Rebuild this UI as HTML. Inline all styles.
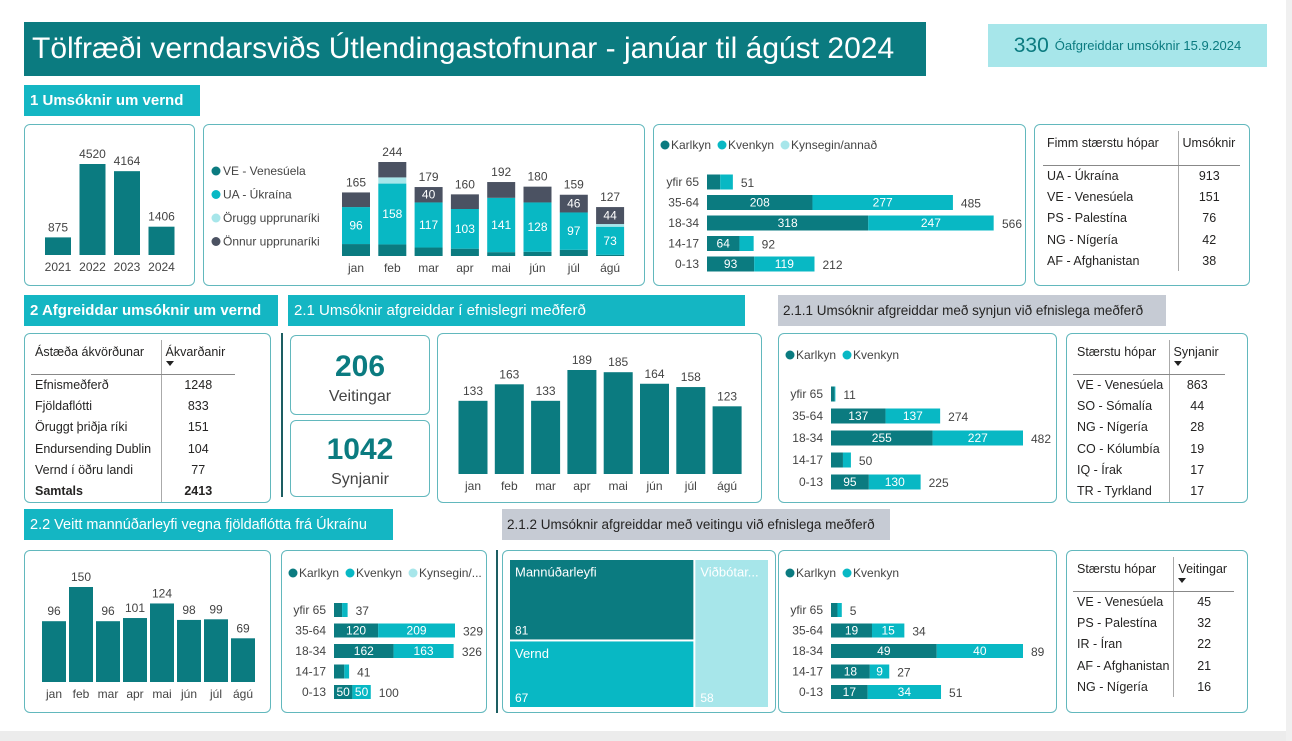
<!DOCTYPE html>
<html><head><meta charset="utf-8">
<style>
*{box-sizing:border-box;margin:0;padding:0}
body{width:1292px;height:741px;background:#fff;position:relative;overflow:hidden;font-family:"Liberation Sans",sans-serif;color:#333}
.abs{position:absolute}
.panel{position:absolute;border:1.5px solid #62b8bd;border-radius:6px;background:#fff}
.hdr{position:absolute;background:#14b6c3;color:#fff;font-size:15px;padding-left:6px;display:flex;align-items:center;white-space:nowrap}
.ghdr{position:absolute;background:#c6cbd4;color:#252423;font-size:13.5px;padding-left:5px;display:flex;align-items:center;white-space:nowrap;overflow:hidden}
table{border-collapse:collapse;font-size:12.5px;color:#252423;white-space:nowrap}
td{padding:0 4px;height:21.3px}
.th td{height:34px;vertical-align:top;padding-top:5px;border-bottom:1px solid #888}
.num{text-align:center;border-left:1px solid #aaa}
.tri{display:block;width:0;height:0;border-left:4px solid transparent;border-right:4px solid transparent;border-top:5px solid #222;margin-top:2px}
svg text{font-family:"Liberation Sans",sans-serif}
</style></head><body>
<div class="abs" style="left:0;top:731px;width:1292px;height:10px;background:#ececec"></div>
<div class="abs" style="left:1286px;top:0;width:6px;height:741px;background:#f0f0f0"></div>

<div class="abs" style="left:24px;top:22px;width:902px;height:54px;background:#0b7b80;color:#fff;font-size:30px;padding-left:8px;line-height:54px;white-space:nowrap">Tölfræði verndarsviðs Útlendingastofnunar - janúar til ágúst 2024</div>
<div class="abs" style="left:988px;top:24px;width:279px;height:43px;background:#a7e6ea;display:flex;align-items:center;justify-content:center;font-size:13px;color:#0b7b80;white-space:nowrap"><span style="font-size:21px;margin-right:6px">330</span>Óafgreiddar umsóknir 15.9.2024</div>

<div class="hdr" style="left:24px;top:85px;width:176px;height:31px;font-weight:bold">1 Umsóknir um vernd</div>
<div class="hdr" style="left:24px;top:295px;width:254px;height:31px;font-weight:bold">2 Afgreiddar umsóknir um vernd</div>
<div class="hdr" style="left:288px;top:295px;width:457px;height:31px">2.1 Umsóknir afgreiddar í efnislegri meðferð</div>
<div class="ghdr" style="left:778px;top:295px;width:388px;height:31px">2.1.1 Umsóknir afgreiddar með synjun við efnislega meðferð</div>
<div class="hdr" style="left:24px;top:509px;width:369px;height:31px;font-size:14.5px">2.2 Veitt mannúðarleyfi vegna fjöldaflótta frá Úkraínu</div>
<div class="ghdr" style="left:502px;top:509px;width:388px;height:31px">2.1.2 Umsóknir afgreiddar með veitingu við efnislega meðferð</div>

<div class="panel" style="left:24px;top:124px;width:171px;height:162px"></div>
<div class="panel" style="left:203px;top:124px;width:442px;height:162px"></div>
<div class="panel" style="left:653px;top:124px;width:373px;height:162px"></div>
<div class="panel" style="left:1034px;top:124px;width:216px;height:162px;padding:6px 0 0 8px">
<table><tr class="th"><td style="width:135px">Fimm stærstu hópar</td><td class="num" style="text-align:left;width:62px">Umsóknir</td></tr>
<tr><td>UA - Úkraína</td><td class="num">913</td></tr><tr><td>VE - Venesúela</td><td class="num">151</td></tr><tr><td>PS - Palestína</td><td class="num">76</td></tr><tr><td>NG - Nígería</td><td class="num">42</td></tr><tr><td>AF - Afghanistan</td><td class="num">38</td></tr></table></div>

<div class="panel" style="left:24px;top:333px;width:247px;height:170px;padding:6px 0 0 6px">
<table><tr class="th"><td style="width:130px">Ástæða ákvörðunar</td><td class="num" style="text-align:left;width:74px">Ákvarðanir<span class="tri"></span></td></tr>
<tr><td>Efnismeðferð</td><td class="num">1248</td></tr><tr><td>Fjöldaflótti</td><td class="num">833</td></tr><tr><td>Öruggt þriðja ríki</td><td class="num">151</td></tr><tr><td>Endursending Dublin</td><td class="num">104</td></tr><tr><td>Vernd í öðru landi</td><td class="num">77</td></tr><tr><td style="font-weight:bold">Samtals</td><td class="num" style="font-weight:bold">2413</td></tr></table></div>
<div class="abs" style="left:281px;top:333px;width:2px;height:164px;background:#1d5e62"></div>
<div class="panel" style="left:290px;top:335px;width:140px;height:80px;text-align:center"><div style="font-size:30px;color:#0b7b80;font-weight:bold;margin-top:14px">206</div><div style="font-size:16px;color:#444;margin-top:4px">Veitingar</div></div>
<div class="panel" style="left:290px;top:420px;width:140px;height:77px;text-align:center"><div style="font-size:30px;color:#0b7b80;font-weight:bold;margin-top:12px">1042</div><div style="font-size:16px;color:#444;margin-top:4px">Synjanir</div></div>
<div class="panel" style="left:437px;top:333px;width:325px;height:170px"></div>
<div class="panel" style="left:778px;top:333px;width:279px;height:170px"></div>
<div class="panel" style="left:1066px;top:333px;width:182px;height:170px;padding:6px 0 0 6px">
<table><tr class="th"><td style="width:96px">Stærstu hópar</td><td class="num" style="text-align:left;width:56px">Synjanir<span class="tri"></span></td></tr>
<tr><td>VE - Venesúela</td><td class="num">863</td></tr><tr><td>SO - Sómalía</td><td class="num">44</td></tr><tr><td>NG - Nígería</td><td class="num">28</td></tr><tr><td>CO - Kólumbía</td><td class="num">19</td></tr><tr><td>IQ - Írak</td><td class="num">17</td></tr><tr><td>TR - Tyrkland</td><td class="num">17</td></tr></table></div>

<div class="panel" style="left:24px;top:550px;width:247px;height:163px"></div>
<div class="panel" style="left:281px;top:550px;width:206px;height:163px"></div>
<div class="abs" style="left:496px;top:550px;width:2px;height:163px;background:#1d5e62"></div>
<div class="panel" style="left:502px;top:550px;width:274px;height:163px"></div>
<div class="panel" style="left:778px;top:550px;width:279px;height:163px"></div>
<div class="panel" style="left:1066px;top:550px;width:182px;height:163px;padding:6px 0 0 6px">
<table><tr class="th"><td style="width:96px">Stærstu hópar</td><td class="num" style="text-align:left;width:60px">Veitingar<span class="tri"></span></td></tr>
<tr><td>VE - Venesúela</td><td class="num">45</td></tr><tr><td>PS - Palestína</td><td class="num">32</td></tr><tr><td>IR - Íran</td><td class="num">22</td></tr><tr><td>AF - Afghanistan</td><td class="num">21</td></tr><tr><td>NG - Nígería</td><td class="num">16</td></tr></table></div>

<svg id="c" class="abs" style="left:0;top:0" width="1292" height="741"></svg>

<script>
// ---- data ----
const years = ['2021','2022','2023','2024'];
const yearVals = [875,4520,4164,1406];
const months = ['jan','feb','mar','apr','mai','jún','júl','ágú'];
const originVE = [31,30,22,19,10,11,16,3];
const originUA = [96,158,117,103,141,128,97,73];
const originSafe = [0,16,0,0,0,0,0,7];
const originOther = [38,40,40,38,41,41,46,44];
const showOtherLabel = [false,false,true,false,false,false,true,true];
const ageCats = ['yfir 65','35-64','18-34','14-17','0-13'];
const appMale = [26,208,318,64,93];
const appFemale = [25,277,247,28,119];
const appOther = [0,0,1,0,0];
const decMonthly = [133,163,133,189,185,164,158,123];
const rejMale = [9,137,255,30,95];
const rejFemale = [2,137,227,20,130];
const uaMonthly = [96,150,96,101,124,98,99,69];
const uaMale = [22,120,162,28,50];
const uaFemale = [15,209,163,13,50];
const uaOther = [0,0,1,0,0];
const grMale = [3,19,49,18,17];
const grFemale = [2,15,40,9,34];
const treeNames = ['Mannúðarleyfi','Vernd','Viðbótar...'];
const treeVals = [81,67,58];

const C_DARK='#0b7b80', C_MID='#08b8c4', C_LIGHT='#a7e6ea', C_GRAY='#4b5262';
const svg = document.getElementById('c');
const NS='http://www.w3.org/2000/svg';
function el(tag, a){const e=document.createElementNS(NS,tag);for(const k in a)e.setAttribute(k,a[k]);svg.appendChild(e);return e;}
function txt(x,y,s,opt){opt=opt||{};const t=el('text',{x:x,y:y,'font-size':opt.size||12,fill:opt.fill||'#444','text-anchor':opt.anchor||'middle','dominant-baseline':'central'});t.textContent=s;


return t;}

function vbars(cats, vals, cx0, step, w, base, maxH, maxV, name){
  vals.forEach((v,i)=>{
    const h=v/maxV*maxH, cx=cx0+i*step;
    const r=el('rect',{x:cx-w/2,y:base-h,width:w,height:h,fill:C_DARK});
    
    
    txt(cx,base-h-10,String(v),{name:name+'-value'});
    txt(cx,base+12,cats[i],{name:name+'-x-label'});
  });
}
vbars(years,yearVals,58,34.5,26,255,91,4520,'yearly');
vbars(months,decMonthly,473,36.3,29,474,104,189,'decisions');
vbars(months,uaMonthly,54,27,24,682,95,150,'ukraine');

(function(){
  const base=256, k=94/244, w=28, cx0=356, step=36.3;
  const series=[[originVE,C_DARK],[originUA,C_MID],[originSafe,C_LIGHT],[originOther,C_GRAY]];
  months.forEach((m,i)=>{
    let y=base; const cx=cx0+i*step;
    series.forEach(([arr,col],s)=>{
      const h=arr[i]*k; if(h<=0)return;
      const r=el('rect',{x:cx-w/2,y:y-h,width:w,height:h,fill:col});
      
      
      if(s===1) txt(cx,y-h/2,String(arr[i]),{fill:'#fff',size:12,name:'origin-ua-value'});
      if(s===3 && showOtherLabel[i]) txt(cx,y-h/2,String(arr[i]),{fill:'#fff',size:12,name:'origin-other-value'});
      y-=h;
    });
    const tot=originVE[i]+originUA[i]+originSafe[i]+originOther[i];
    txt(cx,y-10,String(tot),{name:'origin-total'});
    txt(cx,base+12,m,{name:'origin-x-label'});
  });
  const leg=[['VE - Venesúela',C_DARK],['UA - Úkraína',C_MID],['Örugg upprunaríki',C_LIGHT],['Önnur upprunaríki',C_GRAY]];
  leg.forEach(([n,c],i)=>{const y=171+i*23.5;
    const d=el('circle',{cx:216,cy:y,r:4.5,fill:c});
    
    
    txt(223,y,n,{anchor:'start',name:'legend-entry'});});
})();

function hbars(name, male, female, other, x0, y0, step, pxPerUnit, barH){
  ageCats.forEach((c,i)=>{
    const y=y0+i*step; let x=x0;
    txt(x0-8,y,c,{anchor:'end',name:name+'-y-label'});
    [[male,C_DARK],[female,C_MID],[other,C_LIGHT]].forEach(([arr,col])=>{
      if(!arr)return; const w=arr[i]*pxPerUnit; if(w<=0)return;
      const r=el('rect',{x:x,y:y-barH/2,width:w,height:barH,fill:col});
      
      
      if(w>=16) txt(x+w/2,y,String(arr[i]),{fill:'#fff',name:name+'-segment-value'});
      x+=w;
    });
    const tot=male[i]+female[i]+(other?other[i]:0);
    txt(x+8,y+1,String(tot),{anchor:'start',name:name+'-total'});
  });
}
function legend(x,y,items){
  items.forEach(([n,c])=>{
    const d=el('circle',{cx:x+5,cy:y,r:4.5,fill:c});
    
    
    const t=txt(x+11,y,n,{anchor:'start',name:'legend-entry'});
    x+=11+t.getComputedTextLength()+6;
  });
}
hbars('app-age',appMale,appFemale,appOther,707,182,20.5,287/566,15);
legend(660,145,[['Karlkyn',C_DARK],['Kvenkyn',C_MID],['Kynsegin/annað',C_LIGHT]]);
hbars('rej-age',rejMale,rejFemale,null,831,394,22,192/482,15);
legend(785,355,[['Karlkyn',C_DARK],['Kvenkyn',C_MID]]);
hbars('ua-age',uaMale,uaFemale,uaOther,334,610,20.5,121/329,14);
legend(288,573,[['Karlkyn',C_DARK],['Kvenkyn',C_MID],['Kynsegin/...',C_LIGHT]]);
hbars('gr-age',grMale,grFemale,null,831,610,20.5,192/89,14);
legend(785,573,[['Karlkyn',C_DARK],['Kvenkyn',C_MID]]);

(function(){
  const X=510,Y=560,W=258,H=147, tot=treeVals[0]+treeVals[1]+treeVals[2];
  const leftW=W*(treeVals[0]+treeVals[1])/tot;
  const h0=H*treeVals[0]/(treeVals[0]+treeVals[1]);
  const rects=[[X,Y,leftW-2,h0-1,C_DARK],[X,Y+h0+1,leftW-2,H-h0-1,C_MID],[X+leftW,Y,W-leftW,H,C_LIGHT]];
  rects.forEach(([x,y,w,h,c],i)=>{
    const r=el('rect',{x:x,y:y,width:w,height:h,fill:c});
    
    
    txt(x+5,y+12,treeNames[i],{anchor:'start',fill:'#fff',size:13,name:'treemap-label'});
    txt(x+5,y+h-9,String(treeVals[i]),{anchor:'start',fill:'#fff',size:12,name:'treemap-value'});
  });
})();
</script>
</body></html>
